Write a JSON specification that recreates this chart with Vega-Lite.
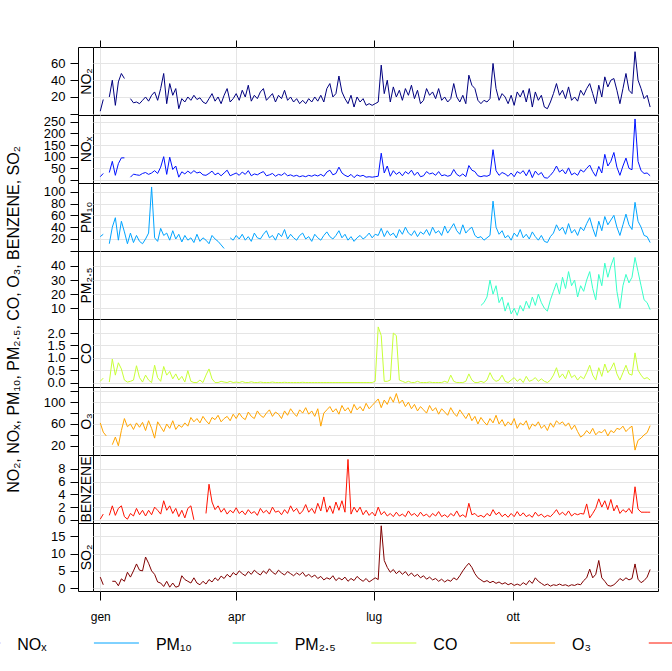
{
"$schema": "https://vega.github.io/schema/vega-lite/v6.json",
"padding": {"left": 0, "top": 39, "right": 0, "bottom": 0},
"background": "white",
"config": {
 "font": "Liberation Sans",
 "view": {"stroke": "black", "strokeWidth": 1},
 "axis": {"labelFont": "Liberation Sans", "titleFont": "Liberation Sans", "labelColor": "black", "titleColor": "black", "tickColor": "black", "domainColor": "black", "gridColor": "#E5E5E5", "titleFontWeight": "normal", "labelFontSize": 13, "tickWidth": 1, "domainWidth": 1, "gridWidth": 1, "labelOverlap": false}
},
"data": {"format": {"parse": {"d": "date:'%Y-%m-%d'"}}, "values": [
{"d":"2019-01-01","a":3,"b":14,"c":24,"f":0.05,"g":62,"h":0.1,"i":3.2},
{"d":"2019-01-03","a":17,"b":28,"c":28,"f":0.18,"g":45,"h":0.9,"i":1.0},
{"d":"2019-01-05","a":null,"b":null,"c":null,"f":null,"g":38,"h":null,"i":null},
{"d":"2019-01-07","a":20,"b":32,"c":12,"f":0.02,"g":null,"h":0.7,"i":null},
{"d":"2019-01-09","a":40,"b":80,"c":40,"f":0.95,"g":22,"h":2.2,"i":2.0},
{"d":"2019-01-11","a":10,"b":20,"c":56,"f":0.3,"g":36,"h":0.7,"i":2.0},
{"d":"2019-01-13","a":38,"b":70,"c":18,"f":0.8,"g":20,"h":1.8,"i":0.7},
{"d":"2019-01-15","a":48,"b":95,"c":50,"f":0.55,"g":48,"h":2.2,"i":2.7},
{"d":"2019-01-17","a":42,"b":95,"c":32,"f":0.1,"g":70,"h":0.5,"i":2.0},
{"d":"2019-01-19","a":null,"b":null,"c":12,"f":0.02,"g":55,"h":0.1,"i":4.6},
{"d":"2019-01-21","a":18,"b":12,"c":30,"f":0.05,"g":60,"h":1.0,"i":3.2},
{"d":"2019-01-23","a":13,"b":25,"c":14,"f":0.1,"g":50,"h":0.6,"i":5.0},
{"d":"2019-01-25","a":14,"b":22,"c":26,"f":0.68,"g":62,"h":1.8,"i":7.0},
{"d":"2019-01-27","a":12,"b":20,"c":16,"f":0.2,"g":54,"h":0.8,"i":5.2},
{"d":"2019-01-29","a":16,"b":28,"c":12,"f":0.02,"g":63,"h":1.5,"i":5.0},
{"d":"2019-01-31","a":20,"b":32,"c":20,"f":0.3,"g":48,"h":0.6,"i":9.0},
{"d":"2019-02-02","a":15,"b":24,"c":30,"f":0.1,"g":66,"h":1.5,"i":7.2},
{"d":"2019-02-04","a":22,"b":30,"c":108,"f":0.0,"g":52,"h":0.8,"i":5.0},
{"d":"2019-02-06","a":26,"b":40,"c":22,"f":0.7,"g":34,"h":2.0,"i":4.0},
{"d":"2019-02-08","a":16,"b":28,"c":16,"f":0.2,"g":64,"h":1.5,"i":1.8},
{"d":"2019-02-10","a":30,"b":55,"c":38,"f":0.05,"g":55,"h":0.9,"i":1.5},
{"d":"2019-02-12","a":48,"b":100,"c":26,"f":0.65,"g":46,"h":3.0,"i":0.5},
{"d":"2019-02-14","a":12,"b":24,"c":30,"f":0.3,"g":60,"h":1.5,"i":2.0},
{"d":"2019-02-16","a":36,"b":98,"c":18,"f":0.45,"g":52,"h":2.2,"i":0.3},
{"d":"2019-02-18","a":22,"b":45,"c":34,"f":0.15,"g":66,"h":1.0,"i":1.5},
{"d":"2019-02-20","a":30,"b":60,"c":20,"f":0.35,"g":50,"h":1.8,"i":0.3},
{"d":"2019-02-22","a":6,"b":12,"c":28,"f":0.1,"g":58,"h":0.5,"i":0.6},
{"d":"2019-02-24","a":18,"b":35,"c":15,"f":0.25,"g":54,"h":1.5,"i":3.6},
{"d":"2019-02-26","a":14,"b":26,"c":26,"f":0.02,"g":62,"h":0.3,"i":2.5},
{"d":"2019-02-28","a":20,"b":38,"c":18,"f":0.48,"g":56,"h":1.8,"i":2.0},
{"d":"2019-03-02","a":16,"b":28,"c":22,"f":0.05,"g":72,"h":2.2,"i":1.5},
{"d":"2019-03-04","a":22,"b":40,"c":14,"f":0.0,"g":64,"h":0.0,"i":3.0},
{"d":"2019-03-06","a":17,"b":30,"c":28,"f":0.0,"g":70,"h":null,"i":1.5},
{"d":"2019-03-08","a":19,"b":34,"c":16,"f":0.1,"g":62,"h":null,"i":1.0},
{"d":"2019-03-10","a":14,"b":22,"c":22,"f":0.0,"g":74,"h":null,"i":2.0},
{"d":"2019-03-12","a":12,"b":20,"c":18,"f":0.3,"g":66,"h":1.0,"i":1.2},
{"d":"2019-03-14","a":18,"b":28,"c":12,"f":0.55,"g":60,"h":5.6,"i":2.5},
{"d":"2019-03-16","a":24,"b":38,"c":26,"f":0.15,"g":72,"h":2.8,"i":1.8},
{"d":"2019-03-18","a":15,"b":22,"c":20,"f":0.0,"g":68,"h":1.6,"i":3.0},
{"d":"2019-03-20","a":20,"b":30,"c":16,"f":0.0,"g":76,"h":2.2,"i":2.2},
{"d":"2019-03-22","a":12,"b":18,"c":10,"f":0.05,"g":64,"h":1.2,"i":3.5},
{"d":"2019-03-24","a":22,"b":30,"c":4,"f":0.02,"g":70,"h":1.8,"i":2.8},
{"d":"2019-03-26","a":30,"b":42,"c":null,"f":0.0,"g":74,"h":0.9,"i":4.0},
{"d":"2019-03-28","a":14,"b":18,"c":22,"f":0.05,"g":66,"h":1.5,"i":3.2},
{"d":"2019-03-30","a":18,"b":24,"c":18,"f":0.0,"g":78,"h":1.1,"i":4.5},
{"d":"2019-04-01","a":24,"b":30,"c":26,"f":0.02,"g":70,"h":1.9,"i":3.8},
{"d":"2019-04-03","a":16,"b":20,"c":20,"f":0.0,"g":80,"h":1.0,"i":5.0},
{"d":"2019-04-05","a":28,"b":34,"c":28,"f":0.04,"g":72,"h":1.4,"i":4.2},
{"d":"2019-04-07","a":20,"b":24,"c":18,"f":0.0,"g":68,"h":0.8,"i":3.6},
{"d":"2019-04-09","a":34,"b":40,"c":24,"f":0.0,"g":82,"h":1.6,"i":4.8},
{"d":"2019-04-11","a":15,"b":18,"c":16,"f":0.03,"g":74,"h":1.0,"i":4.0},
{"d":"2019-04-13","a":22,"b":26,"c":30,"f":0.0,"g":70,"h":1.3,"i":5.2},
{"d":"2019-04-15","a":18,"b":22,"c":22,"f":0.0,"g":84,"h":0.7,"i":4.4},
{"d":"2019-04-17","a":26,"b":30,"c":20,"f":0.02,"g":76,"h":1.8,"i":3.8},
{"d":"2019-04-19","a":30,"b":36,"c":28,"f":0.0,"g":72,"h":1.1,"i":5.0},
{"d":"2019-04-21","a":16,"b":18,"c":34,"f":0.0,"g":80,"h":1.5,"i":4.2},
{"d":"2019-04-23","a":20,"b":22,"c":22,"f":0.0,"g":86,"h":0.9,"i":5.6},
{"d":"2019-04-25","a":24,"b":28,"c":26,"f":0.02,"g":74,"h":2.0,"i":4.6},
{"d":"2019-04-27","a":14,"b":16,"c":18,"f":0.0,"g":82,"h":1.2,"i":4.0},
{"d":"2019-04-29","a":22,"b":24,"c":30,"f":0.0,"g":78,"h":1.4,"i":5.2},
{"d":"2019-05-01","a":18,"b":20,"c":24,"f":0.0,"g":70,"h":0.8,"i":4.4},
{"d":"2019-05-03","a":28,"b":30,"c":36,"f":0.01,"g":84,"h":1.6,"i":3.8},
{"d":"2019-05-05","a":16,"b":18,"c":20,"f":0.0,"g":76,"h":1.0,"i":4.8},
{"d":"2019-05-07","a":20,"b":22,"c":28,"f":0.0,"g":88,"h":2.2,"i":4.2},
{"d":"2019-05-09","a":14,"b":16,"c":22,"f":0.0,"g":80,"h":1.3,"i":3.6},
{"d":"2019-05-11","a":18,"b":20,"c":18,"f":0.0,"g":74,"h":1.8,"i":4.4},
{"d":"2019-05-13","a":12,"b":14,"c":26,"f":0.0,"g":86,"h":0.9,"i":3.8},
{"d":"2019-05-15","a":16,"b":18,"c":30,"f":0.01,"g":80,"h":1.4,"i":4.6},
{"d":"2019-05-17","a":12,"b":14,"c":20,"f":0.0,"g":90,"h":2.4,"i":3.4},
{"d":"2019-05-19","a":18,"b":20,"c":24,"f":0.0,"g":78,"h":1.2,"i":4.0},
{"d":"2019-05-21","a":14,"b":16,"c":16,"f":0.0,"g":84,"h":1.8,"i":3.2},
{"d":"2019-05-23","a":20,"b":22,"c":28,"f":0.0,"g":74,"h":1.0,"i":3.8},
{"d":"2019-05-25","a":15,"b":17,"c":22,"f":0.0,"g":88,"h":2.6,"i":2.8},
{"d":"2019-05-27","a":22,"b":24,"c":18,"f":0.0,"g":56,"h":1.4,"i":3.4},
{"d":"2019-05-29","a":14,"b":16,"c":26,"f":0.0,"g":80,"h":3.6,"i":2.4},
{"d":"2019-05-31","a":30,"b":34,"c":32,"f":0.0,"g":86,"h":1.2,"i":3.0},
{"d":"2019-06-02","a":36,"b":42,"c":24,"f":0.0,"g":92,"h":2.2,"i":2.6},
{"d":"2019-06-04","a":20,"b":22,"c":20,"f":0.0,"g":82,"h":1.0,"i":3.6},
{"d":"2019-06-06","a":24,"b":28,"c":26,"f":0.0,"g":88,"h":2.8,"i":2.2},
{"d":"2019-06-08","a":45,"b":55,"c":34,"f":0.0,"g":78,"h":1.5,"i":3.0},
{"d":"2019-06-10","a":26,"b":30,"c":22,"f":0.0,"g":94,"h":3.0,"i":2.4},
{"d":"2019-06-12","a":18,"b":20,"c":28,"f":0.0,"g":84,"h":1.2,"i":3.2},
{"d":"2019-06-14","a":12,"b":14,"c":18,"f":0.0,"g":90,"h":9.5,"i":2.0},
{"d":"2019-06-16","a":22,"b":24,"c":24,"f":0.0,"g":80,"h":0.9,"i":2.8},
{"d":"2019-06-18","a":8,"b":10,"c":16,"f":0.0,"g":96,"h":2.0,"i":2.2},
{"d":"2019-06-20","a":20,"b":22,"c":22,"f":0.0,"g":86,"h":1.2,"i":3.4},
{"d":"2019-06-22","a":14,"b":16,"c":26,"f":0.0,"g":92,"h":2.0,"i":2.6},
{"d":"2019-06-24","a":18,"b":20,"c":20,"f":0.0,"g":84,"h":0.8,"i":2.0},
{"d":"2019-06-26","a":10,"b":12,"c":24,"f":0.0,"g":98,"h":1.5,"i":2.8},
{"d":"2019-06-28","a":12,"b":14,"c":30,"f":0.0,"g":88,"h":0.7,"i":1.8},
{"d":"2019-06-30","a":10,"b":12,"c":22,"f":0.0,"g":94,"h":1.2,"i":2.4},
{"d":"2019-07-02","a":12,"b":14,"c":28,"f":0.05,"g":100,"h":0.6,"i":3.0},
{"d":"2019-07-04","a":14,"b":16,"c":26,"f":2.25,"g":106,"h":2.0,"i":2.5},
{"d":"2019-07-06","a":58,"b":115,"c":38,"f":1.9,"g":90,"h":0.8,"i":18},
{"d":"2019-07-08","a":24,"b":30,"c":24,"f":0.05,"g":104,"h":1.3,"i":8.0},
{"d":"2019-07-10","a":40,"b":60,"c":34,"f":0.05,"g":96,"h":0.6,"i":6.0},
{"d":"2019-07-12","a":14,"b":16,"c":26,"f":0.1,"g":110,"h":1.0,"i":4.6},
{"d":"2019-07-14","a":32,"b":40,"c":30,"f":2.0,"g":100,"h":0.5,"i":5.4},
{"d":"2019-07-16","a":20,"b":24,"c":22,"f":1.9,"g":116,"h":1.2,"i":4.2},
{"d":"2019-07-18","a":28,"b":34,"c":36,"f":0.1,"g":98,"h":0.6,"i":5.0},
{"d":"2019-07-20","a":16,"b":18,"c":28,"f":0.05,"g":104,"h":0.9,"i":4.0},
{"d":"2019-07-22","a":30,"b":36,"c":40,"f":0.0,"g":92,"h":0.5,"i":4.8},
{"d":"2019-07-24","a":22,"b":26,"c":30,"f":0.05,"g":100,"h":1.4,"i":3.6},
{"d":"2019-07-26","a":34,"b":42,"c":26,"f":0.0,"g":88,"h":0.7,"i":4.4},
{"d":"2019-07-28","a":18,"b":20,"c":34,"f":0.0,"g":96,"h":1.0,"i":3.4},
{"d":"2019-07-30","a":28,"b":34,"c":24,"f":0.05,"g":84,"h":0.5,"i":4.0},
{"d":"2019-08-01","a":12,"b":14,"c":32,"f":0.0,"g":92,"h":1.2,"i":3.0},
{"d":"2019-08-03","a":16,"b":18,"c":28,"f":0.0,"g":86,"h":0.6,"i":3.6},
{"d":"2019-08-05","a":30,"b":36,"c":36,"f":0.0,"g":80,"h":0.9,"i":2.6},
{"d":"2019-08-07","a":22,"b":26,"c":26,"f":0.02,"g":94,"h":0.4,"i":3.2},
{"d":"2019-08-09","a":26,"b":30,"c":40,"f":0.0,"g":84,"h":1.0,"i":2.4},
{"d":"2019-08-11","a":18,"b":20,"c":30,"f":0.0,"g":90,"h":0.6,"i":2.8},
{"d":"2019-08-13","a":30,"b":36,"c":34,"f":0.0,"g":78,"h":1.3,"i":2.0},
{"d":"2019-08-15","a":16,"b":18,"c":26,"f":0.0,"g":88,"h":0.5,"i":2.6},
{"d":"2019-08-17","a":20,"b":22,"c":42,"f":0.05,"g":82,"h":0.8,"i":1.8},
{"d":"2019-08-19","a":14,"b":16,"c":30,"f":0.0,"g":76,"h":0.4,"i":2.4},
{"d":"2019-08-21","a":18,"b":20,"c":38,"f":0.3,"g":90,"h":1.0,"i":2.0},
{"d":"2019-08-23","a":36,"b":45,"c":46,"f":0.05,"g":80,"h":0.6,"i":3.0},
{"d":"2019-08-25","a":20,"b":24,"c":34,"f":0.0,"g":74,"h":1.4,"i":2.4},
{"d":"2019-08-27","a":14,"b":16,"c":28,"f":0.0,"g":86,"h":0.5,"i":3.6},
{"d":"2019-08-29","a":22,"b":26,"c":44,"f":0.0,"g":78,"h":0.8,"i":5.0},
{"d":"2019-08-31","a":12,"b":14,"c":30,"f":0.05,"g":70,"h":0.4,"i":6.2},
{"d":"2019-09-02","a":46,"b":62,"c":36,"f":0.35,"g":80,"h":2.6,"i":7.2},
{"d":"2019-09-04","a":34,"b":42,"c":40,"f":0.1,"g":66,"h":0.8,"i":6.0},
{"d":"2019-09-06","a":30,"b":36,"c":26,"f":0.0,"g":74,"h":1.0,"i":4.2},
{"d":"2019-09-08","a":16,"b":18,"c":22,"f":0.0,"g":60,"h":0.5,"i":3.0},
{"d":"2019-09-10","a":12,"b":14,"c":24,"e":12,"f":0.05,"g":72,"h":0.7,"i":2.4},
{"d":"2019-09-12","a":16,"b":18,"c":18,"e":14,"f":0.0,"g":64,"h":0.4,"i":1.8},
{"d":"2019-09-14","a":14,"b":16,"c":22,"e":18,"f":0.1,"g":58,"h":1.0,"i":2.2},
{"d":"2019-09-16","a":18,"b":22,"c":26,"e":30,"f":0.4,"g":70,"h":0.6,"i":1.6},
{"d":"2019-09-18","a":60,"b":130,"c":84,"e":20,"f":0.15,"g":62,"h":1.6,"i":2.0},
{"d":"2019-09-20","a":30,"b":40,"c":40,"e":26,"f":0.05,"g":76,"h":0.8,"i":1.4},
{"d":"2019-09-22","a":16,"b":20,"c":28,"e":14,"f":0.1,"g":60,"h":1.2,"i":1.8},
{"d":"2019-09-24","a":24,"b":32,"c":34,"e":18,"f":0.3,"g":68,"h":0.5,"i":1.2},
{"d":"2019-09-26","a":20,"b":26,"c":22,"e":8,"f":0.05,"g":56,"h":0.9,"i":1.6},
{"d":"2019-09-28","a":12,"b":16,"c":26,"e":14,"f":0.0,"g":64,"h":0.4,"i":1.0},
{"d":"2019-09-30","a":22,"b":30,"c":18,"e":6,"f":0.1,"g":58,"h":1.0,"i":1.4},
{"d":"2019-10-02","a":10,"b":14,"c":30,"e":10,"f":0.2,"g":70,"h":0.5,"i":0.8},
{"d":"2019-10-04","a":26,"b":36,"c":24,"e":5,"f":0.05,"g":52,"h":1.3,"i":1.2},
{"d":"2019-10-06","a":20,"b":28,"c":36,"e":12,"f":0.15,"g":62,"h":0.6,"i":0.8},
{"d":"2019-10-08","a":28,"b":40,"c":22,"e":8,"f":0.0,"g":58,"h":1.1,"i":1.6},
{"d":"2019-10-10","a":14,"b":18,"c":28,"e":15,"f":0.25,"g":66,"h":0.5,"i":1.0},
{"d":"2019-10-12","a":30,"b":44,"c":20,"e":10,"f":0.05,"g":50,"h":0.8,"i":2.2},
{"d":"2019-10-14","a":8,"b":10,"c":32,"e":18,"f":0.1,"g":60,"h":0.4,"i":1.4},
{"d":"2019-10-16","a":26,"b":38,"c":24,"e":12,"f":0.2,"g":56,"h":1.2,"i":3.0},
{"d":"2019-10-18","a":16,"b":22,"c":18,"e":20,"f":0.05,"g":64,"h":0.6,"i":2.0},
{"d":"2019-10-20","a":22,"b":32,"c":26,"e":14,"f":0.15,"g":52,"h":0.9,"i":1.4},
{"d":"2019-10-22","a":8,"b":10,"c":16,"e":10,"f":0.05,"g":58,"h":0.4,"i":0.8},
{"d":"2019-10-24","a":6,"b":8,"c":14,"e":8,"f":0.0,"g":48,"h":0.7,"i":1.2},
{"d":"2019-10-26","a":14,"b":20,"c":24,"e":16,"f":0.1,"g":62,"h":0.5,"i":0.6},
{"d":"2019-10-28","a":24,"b":36,"c":30,"e":22,"f":0.3,"g":54,"h":1.0,"i":1.0},
{"d":"2019-10-30","a":36,"b":60,"c":44,"e":28,"f":0.6,"g":66,"h":1.6,"i":0.8},
{"d":"2019-11-01","a":22,"b":34,"c":34,"e":20,"f":0.2,"g":60,"h":0.8,"i":1.2},
{"d":"2019-11-03","a":28,"b":44,"c":40,"e":32,"f":0.35,"g":64,"h":1.2,"i":0.8},
{"d":"2019-11-05","a":18,"b":26,"c":28,"e":24,"f":0.15,"g":56,"h":0.7,"i":1.0},
{"d":"2019-11-07","a":32,"b":52,"c":46,"e":36,"f":0.5,"g":62,"h":1.4,"i":0.6},
{"d":"2019-11-09","a":16,"b":22,"c":30,"e":26,"f":0.2,"g":50,"h":0.6,"i":1.0},
{"d":"2019-11-11","a":20,"b":30,"c":36,"e":30,"f":0.3,"g":58,"h":1.0,"i":0.8},
{"d":"2019-11-13","a":15,"b":20,"c":26,"e":18,"f":0.1,"g":46,"h":0.8,"i":1.2},
{"d":"2019-11-15","a":28,"b":44,"c":40,"e":26,"f":0.25,"g":36,"h":1.0,"i":1.0},
{"d":"2019-11-17","a":22,"b":34,"c":34,"e":22,"f":0.15,"g":40,"h":0.9,"i":2.2},
{"d":"2019-11-19","a":30,"b":50,"c":46,"e":30,"f":0.4,"g":48,"h":2.5,"i":3.0},
{"d":"2019-11-21","a":36,"b":64,"c":56,"e":36,"f":0.7,"g":42,"h":0.3,"i":5.5},
{"d":"2019-11-23","a":24,"b":36,"c":38,"e":24,"f":0.3,"g":52,"h":1.0,"i":3.0},
{"d":"2019-11-25","a":12,"b":16,"c":24,"e":16,"f":0.1,"g":40,"h":1.8,"i":4.0},
{"d":"2019-11-27","a":34,"b":58,"c":50,"e":34,"f":0.6,"g":46,"h":3.3,"i":8.0},
{"d":"2019-11-29","a":20,"b":30,"c":34,"e":26,"f":0.25,"g":44,"h":2.0,"i":3.0},
{"d":"2019-12-01","a":44,"b":110,"c":58,"e":42,"f":0.75,"g":50,"h":3.0,"i":2.0},
{"d":"2019-12-03","a":32,"b":60,"c":44,"e":32,"f":0.4,"g":38,"h":1.6,"i":0.8},
{"d":"2019-12-05","a":40,"b":80,"c":52,"e":40,"f":0.55,"g":48,"h":3.2,"i":0.6},
{"d":"2019-12-07","a":42,"b":118,"c":60,"e":46,"f":0.8,"g":44,"h":1.4,"i":1.0},
{"d":"2019-12-09","a":28,"b":55,"c":40,"e":22,"f":0.35,"g":52,"h":2.3,"i":1.8},
{"d":"2019-12-11","a":12,"b":20,"c":26,"e":10,"f":0.1,"g":50,"h":1.0,"i":2.8},
{"d":"2019-12-13","a":30,"b":60,"c":44,"e":26,"f":0.4,"g":56,"h":1.6,"i":2.2},
{"d":"2019-12-15","a":48,"b":94,"c":62,"e":34,"f":0.7,"g":46,"h":1.2,"i":3.0},
{"d":"2019-12-17","a":28,"b":50,"c":44,"e":28,"f":0.35,"g":52,"h":1.8,"i":2.4},
{"d":"2019-12-19","a":24,"b":44,"c":36,"e":32,"f":0.3,"g":56,"h":1.0,"i":2.8},
{"d":"2019-12-21","a":74,"b":262,"c":82,"e":46,"f":1.2,"g":12,"h":5.2,"i":7.0},
{"d":"2019-12-23","a":40,"b":80,"c":50,"e":36,"f":0.5,"g":30,"h":1.7,"i":2.6},
{"d":"2019-12-25","a":30,"b":40,"c":40,"e":26,"f":0.3,"g":34,"h":1.2,"i":1.6},
{"d":"2019-12-27","a":18,"b":28,"c":26,"e":16,"f":0.15,"g":40,"h":1.2,"i":2.2},
{"d":"2019-12-29","a":22,"b":30,"c":24,"e":14,"f":0.2,"g":44,"h":1.2,"i":3.2},
{"d":"2019-12-31","a":8,"b":18,"c":14,"e":9,"f":0.1,"g":57,"h":1.2,"i":5.4}
]},
"spacing": 10,
"vconcat": [
 {"spacing": 19, "hconcat": [
  {"width": 23, "height": 544, "view": {"stroke": null},
   "mark": {"type": "point", "opacity": 0},
   "encoding": {"y": {"field": "a", "type": "quantitative", "axis": {"labels": false, "ticks": false, "domain": false, "grid": false, "title": "NO₂, NOₓ, PM₁₀, PM₂.₅, CO, O₃, BENZENE, SO₂", "titleFontSize": 16, "titleAngle": 270, "titleX": 18, "titleY": 272, "titleAlign": "center", "titleBaseline": "alphabetic"}}}
  },
  {"spacing": 0, "bounds": "flush", "vconcat": [
   {"width": 565, "height": 68,
    "encoding": {"x": {"field": "d", "type": "temporal", "scale": {"domain": [{"year":2018,"month":12,"date":27,"hours":5},{"year":2020,"month":1,"date":5,"hours":5}]}, "axis": {"orient": "top", "values": [{"year":2019,"month":1,"date":1},{"year":2019,"month":4,"date":1},{"year":2019,"month":7,"date":1},{"year":2019,"month":10,"date":1}], "grid": true, "tickSize": 7, "labels": false, "domain": false, "title": null}}},
    "layer": [
     {"mark": {"type": "line", "color": "#00007F", "strokeWidth": 1, "invalid": "break-paths-show-domains"},
      "encoding": {"y": {"field": "a", "type": "quantitative", "scale": {"domain": [-1.5, 79.6], "nice": false, "zero": false}, "axis": {"orient": "left", "values": [0, 20, 40, 60], "labelExpr": "datum.value == 0 ? '' : datum.label", "offset": 15, "tickSize": 8, "labelPadding": 5, "grid": true, "title": "NO₂", "titleFontSize": 14, "titleAngle": 270, "titleX": 8, "titleY": 34, "titleAlign": "center", "titleBaseline": "middle"}}}},
     {"mark": {"type": "line", "opacity": 0},
      "encoding": {"y": {"field": "a", "type": "quantitative", "scale": {"domain": [-1.5, 79.6], "nice": false, "zero": false}, "axis": {"orient": "left", "values": [-1.5, 79.6], "offset": 15, "tickSize": -15, "labels": false, "domain": false, "grid": false, "title": null}}}}
    ],
    "resolve": {"axis": {"y": "independent"}}
   },
   {"width": 565, "height": 68,
    "encoding": {"x": {"field": "d", "type": "temporal", "scale": {"domain": [{"year":2018,"month":12,"date":27,"hours":5},{"year":2020,"month":1,"date":5,"hours":5}]}, "axis": {"orient": "bottom", "values": [{"year":2019,"month":1,"date":1},{"year":2019,"month":4,"date":1},{"year":2019,"month":7,"date":1},{"year":2019,"month":10,"date":1}], "grid": true, "ticks": false, "labels": false, "domain": false, "title": null}}},
    "layer": [
     {"mark": {"type": "line", "color": "#0012FF", "strokeWidth": 1, "invalid": "break-paths-show-domains"},
      "encoding": {"y": {"field": "b", "type": "quantitative", "scale": {"domain": [-13, 279], "nice": false, "zero": false}, "axis": {"orient": "left", "values": [0, 50, 100, 150, 200, 250], "offset": 15, "tickSize": 8, "labelPadding": 5, "grid": true, "title": "NOₓ", "titleFontSize": 14, "titleAngle": 270, "titleX": 8, "titleY": 34, "titleAlign": "center", "titleBaseline": "middle"}}}},
     {"mark": {"type": "line", "opacity": 0},
      "encoding": {"y": {"field": "b", "type": "quantitative", "scale": {"domain": [-13, 279], "nice": false, "zero": false}, "axis": {"orient": "left", "values": [-13, 279], "offset": 15, "tickSize": -15, "labels": false, "domain": false, "grid": false, "title": null}}}}
    ],
    "resolve": {"axis": {"y": "independent"}}
   },
   {"width": 565, "height": 68,
    "encoding": {"x": {"field": "d", "type": "temporal", "scale": {"domain": [{"year":2018,"month":12,"date":27,"hours":5},{"year":2020,"month":1,"date":5,"hours":5}]}, "axis": {"orient": "bottom", "values": [{"year":2019,"month":1,"date":1},{"year":2019,"month":4,"date":1},{"year":2019,"month":7,"date":1},{"year":2019,"month":10,"date":1}], "grid": true, "ticks": false, "labels": false, "domain": false, "title": null}}},
    "layer": [
     {"mark": {"type": "line", "color": "#00A4FF", "strokeWidth": 1, "invalid": "break-paths-show-domains"},
      "encoding": {"y": {"field": "c", "type": "quantitative", "scale": {"domain": [-0.3, 114.7], "nice": false, "zero": false}, "axis": {"orient": "left", "values": [0, 20, 40, 60, 80, 100], "labelExpr": "datum.value == 0 ? '' : datum.label", "offset": 15, "tickSize": 8, "labelPadding": 5, "grid": true, "title": "PM₁₀", "titleFontSize": 14, "titleAngle": 270, "titleX": 8, "titleY": 34, "titleAlign": "center", "titleBaseline": "middle"}}}},
     {"mark": {"type": "line", "opacity": 0},
      "encoding": {"y": {"field": "c", "type": "quantitative", "scale": {"domain": [-0.3, 114.7], "nice": false, "zero": false}, "axis": {"orient": "left", "values": [-0.3, 114.7], "offset": 15, "tickSize": -15, "labels": false, "domain": false, "grid": false, "title": null}}}}
    ],
    "resolve": {"axis": {"y": "independent"}}
   },
   {"width": 565, "height": 68,
    "encoding": {"x": {"field": "d", "type": "temporal", "scale": {"domain": [{"year":2018,"month":12,"date":27,"hours":5},{"year":2020,"month":1,"date":5,"hours":5}]}, "axis": {"orient": "bottom", "values": [{"year":2019,"month":1,"date":1},{"year":2019,"month":4,"date":1},{"year":2019,"month":7,"date":1},{"year":2019,"month":10,"date":1}], "grid": true, "ticks": false, "labels": false, "domain": false, "title": null}}},
    "layer": [
     {"mark": {"type": "line", "color": "#36FFC9", "strokeWidth": 1, "invalid": "break-paths-show-domains"},
      "encoding": {"y": {"field": "e", "type": "quantitative", "scale": {"domain": [2.4, 50.6], "nice": false, "zero": false}, "axis": {"orient": "left", "values": [10, 20, 30, 40], "offset": 15, "tickSize": 8, "labelPadding": 5, "grid": true, "title": "PM₂.₅", "titleFontSize": 14, "titleAngle": 270, "titleX": 8, "titleY": 34, "titleAlign": "center", "titleBaseline": "middle"}}}},
     {"mark": {"type": "line", "opacity": 0},
      "encoding": {"y": {"field": "e", "type": "quantitative", "scale": {"domain": [2.4, 50.6], "nice": false, "zero": false}, "axis": {"orient": "left", "values": [2.4, 50.6], "offset": 15, "tickSize": -15, "labels": false, "domain": false, "grid": false, "title": null}}}}
    ],
    "resolve": {"axis": {"y": "independent"}}
   },
   {"width": 565, "height": 68,
    "encoding": {"x": {"field": "d", "type": "temporal", "scale": {"domain": [{"year":2018,"month":12,"date":27,"hours":5},{"year":2020,"month":1,"date":5,"hours":5}]}, "axis": {"orient": "bottom", "values": [{"year":2019,"month":1,"date":1},{"year":2019,"month":4,"date":1},{"year":2019,"month":7,"date":1},{"year":2019,"month":10,"date":1}], "grid": true, "ticks": false, "labels": false, "domain": false, "title": null}}},
    "layer": [
     {"mark": {"type": "line", "color": "#C8FF36", "strokeWidth": 1, "invalid": "break-paths-show-domains"},
      "encoding": {"y": {"field": "f", "type": "quantitative", "scale": {"domain": [-0.18, 2.57], "nice": false, "zero": false}, "axis": {"orient": "left", "values": [0, 0.5, 1, 1.5, 2], "format": ".1f", "offset": 15, "tickSize": 8, "labelPadding": 5, "grid": true, "title": "CO", "titleFontSize": 14, "titleAngle": 270, "titleX": 8, "titleY": 34, "titleAlign": "center", "titleBaseline": "middle"}}}},
     {"mark": {"type": "line", "opacity": 0},
      "encoding": {"y": {"field": "f", "type": "quantitative", "scale": {"domain": [-0.18, 2.57], "nice": false, "zero": false}, "axis": {"orient": "left", "values": [-0.18, 2.57], "offset": 15, "tickSize": -15, "labels": false, "domain": false, "grid": false, "title": null}}}}
    ],
    "resolve": {"axis": {"y": "independent"}}
   },
   {"width": 565, "height": 68,
    "encoding": {"x": {"field": "d", "type": "temporal", "scale": {"domain": [{"year":2018,"month":12,"date":27,"hours":5},{"year":2020,"month":1,"date":5,"hours":5}]}, "axis": {"orient": "bottom", "values": [{"year":2019,"month":1,"date":1},{"year":2019,"month":4,"date":1},{"year":2019,"month":7,"date":1},{"year":2019,"month":10,"date":1}], "grid": true, "ticks": false, "labels": false, "domain": false, "title": null}}},
    "layer": [
     {"mark": {"type": "line", "color": "#FFA400", "strokeWidth": 1, "invalid": "break-paths-show-domains"},
      "encoding": {"y": {"field": "g", "type": "quantitative", "scale": {"domain": [3, 128], "nice": false, "zero": false}, "axis": {"orient": "left", "values": [20, 40, 60, 80, 100, 120], "labelExpr": "datum.value % 40 == 20 ? datum.label : ''", "offset": 15, "tickSize": 8, "labelPadding": 5, "grid": true, "title": "O₃", "titleFontSize": 14, "titleAngle": 270, "titleX": 8, "titleY": 34, "titleAlign": "center", "titleBaseline": "middle"}}}},
     {"mark": {"type": "line", "opacity": 0},
      "encoding": {"y": {"field": "g", "type": "quantitative", "scale": {"domain": [3, 128], "nice": false, "zero": false}, "axis": {"orient": "left", "values": [3, 128], "offset": 15, "tickSize": -15, "labels": false, "domain": false, "grid": false, "title": null}}}}
    ],
    "resolve": {"axis": {"y": "independent"}}
   },
   {"width": 565, "height": 68,
    "encoding": {"x": {"field": "d", "type": "temporal", "scale": {"domain": [{"year":2018,"month":12,"date":27,"hours":5},{"year":2020,"month":1,"date":5,"hours":5}]}, "axis": {"orient": "bottom", "values": [{"year":2019,"month":1,"date":1},{"year":2019,"month":4,"date":1},{"year":2019,"month":7,"date":1},{"year":2019,"month":10,"date":1}], "grid": true, "ticks": false, "labels": false, "domain": false, "title": null}}},
    "layer": [
     {"mark": {"type": "line", "color": "#FF1200", "strokeWidth": 1, "invalid": "break-paths-show-domains"},
      "encoding": {"y": {"field": "h", "type": "quantitative", "scale": {"domain": [-0.5, 10.2], "nice": false, "zero": false}, "axis": {"orient": "left", "values": [0, 2, 4, 6, 8], "offset": 15, "tickSize": 8, "labelPadding": 5, "grid": true, "title": "BENZENE", "titleFontSize": 14, "titleAngle": 270, "titleX": 8, "titleY": 34, "titleAlign": "center", "titleBaseline": "middle"}}}},
     {"mark": {"type": "line", "opacity": 0},
      "encoding": {"y": {"field": "h", "type": "quantitative", "scale": {"domain": [-0.5, 10.2], "nice": false, "zero": false}, "axis": {"orient": "left", "values": [-0.5, 10.2], "offset": 15, "tickSize": -15, "labels": false, "domain": false, "grid": false, "title": null}}}}
    ],
    "resolve": {"axis": {"y": "independent"}}
   },
   {"width": 565, "height": 68,
    "encoding": {"x": {"field": "d", "type": "temporal", "scale": {"domain": [{"year":2018,"month":12,"date":27,"hours":5},{"year":2020,"month":1,"date":5,"hours":5}]}, "axis": {"orient": "bottom", "values": [{"year":2019,"month":1,"date":1},{"year":2019,"month":4,"date":1},{"year":2019,"month":7,"date":1},{"year":2019,"month":10,"date":1}], "grid": true, "tickSize": 9, "labelPadding": 11, "labelFontSize": 12, "labelFlush": false, "labelExpr": "['gen','feb','mar','apr','mag','giu','lug','ago','set','ott','nov','dic'][month(datum.value)]", "domain": false, "title": null}}},
    "layer": [
     {"mark": {"type": "line", "color": "#7F0000", "strokeWidth": 1, "invalid": "break-paths-show-domains"},
      "encoding": {"y": {"field": "i", "type": "quantitative", "scale": {"domain": [-0.8, 18.8], "nice": false, "zero": false}, "axis": {"orient": "left", "values": [0, 5, 10, 15], "offset": 15, "tickSize": 8, "labelPadding": 5, "grid": true, "title": "SO₂", "titleFontSize": 14, "titleAngle": 270, "titleX": 8, "titleY": 34, "titleAlign": "center", "titleBaseline": "middle"}}}},
     {"mark": {"type": "line", "opacity": 0},
      "encoding": {"y": {"field": "i", "type": "quantitative", "scale": {"domain": [-0.8, 18.8], "nice": false, "zero": false}, "axis": {"orient": "left", "values": [-0.8, 18.8], "offset": 15, "tickSize": -15, "labels": false, "domain": false, "grid": false, "title": null}}}}
    ],
    "resolve": {"axis": {"y": "independent"}}
   }
  ]}
 ]},
 {"width": 672, "height": 20, "view": {"stroke": null},
  "data": {"values": [{"s":"NO₂"},{"s":"NOₓ"},{"s":"PM₁₀"},{"s":"PM₂.₅"},{"s":"CO"},{"s":"O₃"},{"s":"BENZENE"},{"s":"SO₂"}]},
  "encoding": {"x": {"field": "s", "type": "nominal", "sort": null, "scale": {"type": "point", "padding": 0, "domain": ["NO₂","NOₓ","PM₁₀","PM₂.₅","CO","O₃","BENZENE","SO₂"], "range": [-161, 810]}, "axis": null}},
  "layer": [
   {"mark": {"type": "point", "shape": "stroke", "size": 2025, "filled": false, "strokeWidth": 1, "opacity": 1, "clip": true},
    "encoding": {"color": {"field": "s", "type": "nominal", "scale": {"domain": ["NO₂","NOₓ","PM₁₀","PM₂.₅","CO","O₃","BENZENE","SO₂"], "range": ["#00007F","#0012FF","#00A4FF","#36FFC9","#C8FF36","#FFA400","#FF1200","#7F0000"]}, "legend": null}}},
   {"mark": {"type": "text", "align": "left", "baseline": "middle", "dx": 39.5, "dy": 2, "fontSize": 16, "color": "black", "clip": true},
    "encoding": {"text": {"field": "s"}}}
  ]
 }
]
}
